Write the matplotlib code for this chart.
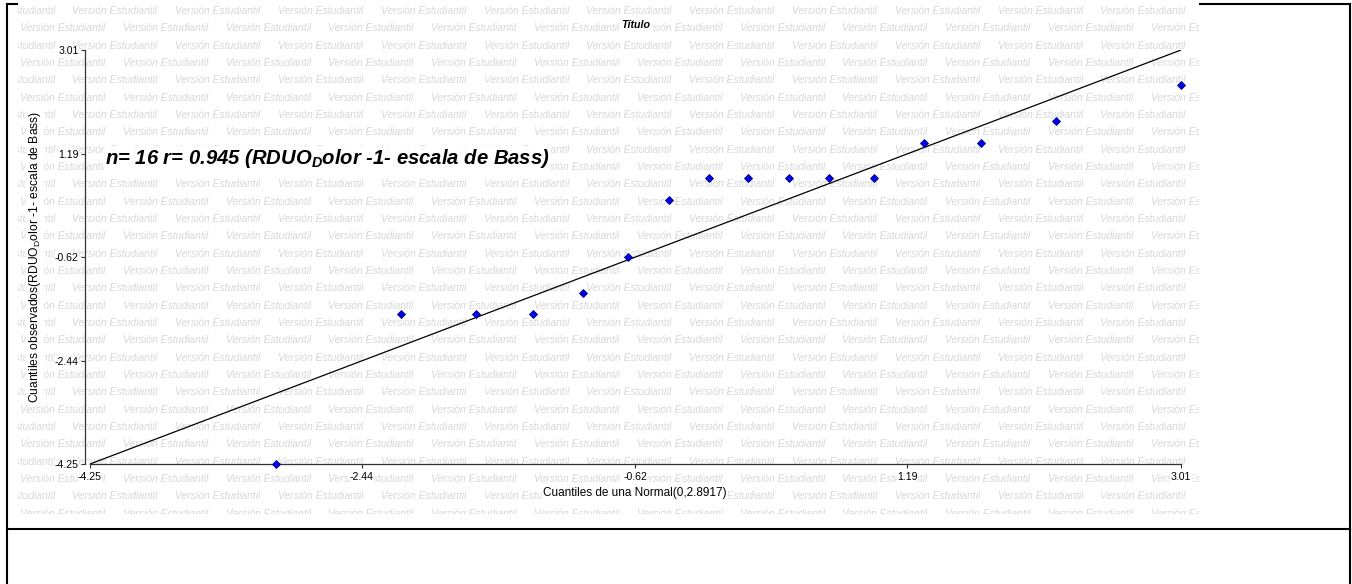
import numpy as np
import matplotlib.pyplot as plt
from matplotlib.lines import Line2D

plt.rcParams['font.family'] = ['Liberation Sans', 'DejaVu Sans']
plt.rcParams['mathtext.fontset'] = 'custom'
plt.rcParams['mathtext.rm'] = 'Liberation Sans'
plt.rcParams['mathtext.it'] = 'Liberation Sans:italic:bold'

# Q-Q plot data (theoretical vs observed quantiles)
cuantiles_normal = [-3.01, -2.18, -1.68, -1.30, -0.97, -0.67, -0.40, -0.13,
                    0.13, 0.40, 0.67, 0.97, 1.30, 1.68, 2.18, 3.01]
cuantiles_obs = [-4.25, -1.62, -1.62, -1.62, -1.25, -0.62, 0.38, 0.76,
                 0.76, 0.76, 0.76, 0.76, 1.38, 1.38, 1.76, 2.40]
ticks = [-4.25, -2.44, -0.62, 1.19, 3.01]
n = 16
r = 0.945

W, H = 1352, 584
fig = plt.figure(figsize=(W / 100, H / 100), dpi=100)


def fx(x):
    return x / W


def fy(y):
    return 1 - y / H


# cell border
for xs, ys in [((7, 1350), (4, 4)), ((7, 1350), (529, 529)),
               ((7, 7), (4, 584)), ((1350, 1350), (4, 584))]:
    fig.add_artist(Line2D([fx(xs[0]), fx(xs[1])], [fy(ys[0]), fy(ys[1])],
                          color='black', lw=1.5, zorder=0.5))

# watermark background
wm = fig.add_axes([fx(18), fy(514), fx(1199 - 18), 514 / H], zorder=1)
wm.set_xlim(18, 1199)
wm.set_ylim(514, 0)
wm.axis('off')
wm.add_patch(plt.Rectangle((18, 0), 1181, 514, color='white', zorder=0))
for k in range(30):
    y = 11 + 17.33 * k
    x0 = 20 if k % 2 else -30.5
    for j in range(13):
        wm.text(x0 + 102.8 * j, y, 'Versión Estudiantil', fontsize=7.5,
                style='italic', color='#d8d8d8', ha='left', va='center',
                clip_on=True)

# main axes
ax = fig.add_axes([fx(90), fy(464), fx(1181 - 90), (464 - 50) / H], zorder=2)
ax.set_facecolor('none')
lo, hi = ticks[0], ticks[-1]
ax.set_xlim(lo, hi)
ax.set_ylim(lo, hi)
ax.plot([lo, hi], [lo, hi], color='black', lw=0.9, zorder=2)
ax.plot(cuantiles_normal, cuantiles_obs, linestyle='none', marker='D',
        markersize=3.8, markerfacecolor='#0000ee', markeredgecolor='#000080',
        markeredgewidth=0.6, clip_on=False, zorder=3)

for s in ['top', 'right']:
    ax.spines[s].set_visible(False)
ax.spines['left'].set_position(('outward', 3.6))
for s in ['left', 'bottom']:
    ax.spines[s].set_color('#333333')
    ax.spines[s].set_linewidth(0.9)
ax.set_xticks(ticks)
ax.set_yticks(ticks)
ax.set_xticklabels([f'{t:.2f}' for t in ticks])
ax.set_yticklabels([f'{t:.2f}' for t in ticks])
ax.tick_params(length=3, width=0.8, labelsize=7.6, pad=1.5, colors='#333333',
               labelcolor='black')
ax.tick_params(axis='x', pad=2.5)
for lbl in ax.get_xticklabels() + ax.get_yticklabels():
    lbl.set_bbox(dict(facecolor='white', edgecolor='none', pad=0.3))

bg = dict(facecolor='white', edgecolor='none', pad=0.5)
fig.text(fx(636), fy(25), 'Título', fontsize=7.7, fontweight='bold',
         style='italic', ha='center', va='center', bbox=bg, zorder=3)
fig.text(fx(635), fy(493), 'Cuantiles de una Normal(0,2.8917)', fontsize=8.5,
         ha='center', va='center', bbox=bg, zorder=3)
fig.text(fx(35), fy(257),
         r'Cuantiles observados(RDUO$_{\mathrm{D}}$olor -1- escala de Bass)',
         fontsize=8.7, rotation=90, ha='center', va='center', bbox=bg, zorder=3)
fig.text(fx(105), fy(164),
         f'n= {n} r= {r:.3f} (RDUO' + r'$_{D}$' + 'olor -1- escala de Bass)',
         fontsize=14.6, fontweight='bold', style='italic', ha='left',
         va='baseline', bbox=bg, zorder=3)

fig.savefig('out.png', dpi=100)
